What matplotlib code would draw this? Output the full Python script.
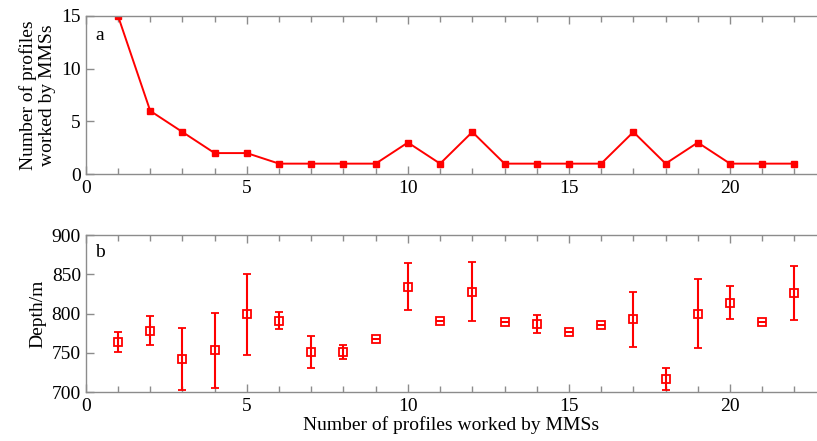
import matplotlib
matplotlib.use("Agg")
import matplotlib.pyplot as plt
import numpy as np
from matplotlib.ticker import MultipleLocator

plt.rcParams['font.family'] = ['Liberation Serif', 'DejaVu Serif']
plt.rcParams['font.size'] = 14

# panel a: count per profile index
profiles = np.arange(1, 23)
counts = [15, 6, 4, 2, 2, 1, 1, 1, 1, 3, 1, 4, 1, 1, 1, 1, 4, 1, 3, 1, 1, 1]

# panel b: mean depth and spread
depth = [764, 778, 742, 753, 799, 791, 751, 751, 767, 834, 791,
         828, 789, 787, 777, 786, 793, 716, 800, 814, 789, 826]
depth_err = [12.5, 18.5, 39, 48, 52, 10.5, 21, 9, 0, 30, 0,
             37.5, 0, 11.5, 0, 0, 35, 14, 44, 21, 0, 34]

red = '#ff0000'
spine_gray = '#8c8c8c'

fig = plt.figure(figsize=(8.17, 4.41), dpi=100)
ax1 = fig.add_axes([0.105, 0.605, 0.895, 0.359])
ax2 = fig.add_axes([0.105, 0.111, 0.895, 0.356])


def style_axis(ax):
    for side in ['left', 'bottom', 'top']:
        ax.spines[side].set_color(spine_gray)
        ax.spines[side].set_linewidth(1.0)
    ax.spines['right'].set_visible(False)
    ax.set_xlim(0, 22.7)
    ax.xaxis.set_major_locator(MultipleLocator(5))
    ax.xaxis.set_minor_locator(MultipleLocator(1))
    ax.tick_params(which='both', direction='in', top=True, right=False,
                   color=spine_gray, labelcolor='black', labelsize=14)
    ax.tick_params(which='major', length=6, width=1)
    ax.tick_params(which='minor', length=4, width=1)
    ax.tick_params(axis='y', which='minor', left=False)
    ax.tick_params(axis='x', pad=4)


ax1.plot(profiles, counts, color=red, lw=1.4, marker='s', ms=4,
         mec=red, mfc=red)
style_axis(ax1)
ax1.set_ylim(0, 15)
ax1.yaxis.set_major_locator(MultipleLocator(5))
ax1.set_ylabel('Number of profiles\nworked by MMSs', fontsize=14, linespacing=1.1)
ax1.text(0.013, 0.85, 'a', transform=ax1.transAxes, fontsize=14)

ax2.errorbar(profiles, depth, yerr=depth_err, fmt='s', color=red, ms=5.5,
             mfc='none', mec=red, mew=1.3, elinewidth=1.5, capsize=3,
             capthick=1.5)
style_axis(ax2)
ax2.set_ylim(700, 900)
ax2.yaxis.set_major_locator(MultipleLocator(50))
ax2.set_ylabel('Depth/m', fontsize=14)
ax2.set_xlabel('Number of profiles worked by MMSs', fontsize=14, labelpad=1)
ax2.text(0.013, 0.86, 'b', transform=ax2.transAxes, fontsize=14)

fig.savefig('out.png', dpi=100)
